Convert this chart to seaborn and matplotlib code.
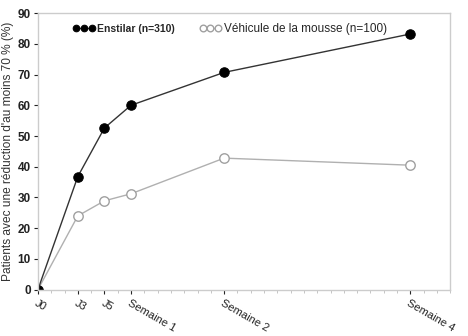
import matplotlib
matplotlib.use("Agg")
import matplotlib.pyplot as plt
import seaborn as sns
import pandas as pd
from matplotlib.ticker import MultipleLocator

days = [0, 3, 5, 7, 14, 28]
tick_labels = ["J0", "J3", "J5", "Semaine 1", "Semaine 2", "Semaine 4"]
enstilar = [0, 36.8, 52.6, 60.0, 70.7, 83.2]
vehicule = [0, 24.0, 28.9, 31.2, 42.8, 40.5]
series_names = ["Enstilar (n=310)", "Véhicule de la mousse (n=100)"]

sns.set_theme(style="white")
plt.rcParams['font.family'] = ['Liberation Sans', 'DejaVu Sans']

df = pd.DataFrame({
    "jour": days * 2,
    "val": enstilar + vehicule,
    "serie": [series_names[0]] * len(days) + [series_names[1]] * len(days),
})

fig = plt.figure(figsize=(4.68, 3.36), dpi=100)
ax = fig.add_axes([0.081, 0.138, 0.881, 0.823])

d1 = df[df.serie == series_names[0]]
d2 = df[df.serie == series_names[1]]
sns.lineplot(data=d2, x="jour", y="val", ax=ax, color="#b0b0b0", lw=1.0,
             marker="o", markersize=6.8, markerfacecolor="white",
             markeredgecolor="#a0a0a0", markeredgewidth=1.0, label=series_names[1])
sns.lineplot(data=d1, x="jour", y="val", ax=ax, color="#333333", lw=1.0,
             marker="o", markersize=6.8, markerfacecolor="black",
             markeredgecolor="black", label=series_names[0])

ax.set_xlim(0, 31)
ax.set_ylim(0, 90)
ax.set_xticks(days)
ax.set_xticklabels(tick_labels, rotation=-30, ha="left", va="top",
                   rotation_mode="anchor", fontsize=8, color="#222222")
ax.xaxis.set_minor_locator(MultipleLocator(1))
ax.set_yticks(range(0, 91, 10))
ax.tick_params(axis="y", labelsize=8.5, colors="#222222", length=3, width=0.8, left=True, pad=2)
ax.tick_params(axis="x", which="major", length=3, width=0.8, bottom=True, pad=3)
ax.tick_params(axis="x", which="minor", length=2, width=0.6, bottom=True, color="#bbbbbb")
for lab in ax.get_yticklabels():
    lab.set_fontweight("bold")
ax.set_xlabel("")
ax.set_ylabel("Patients avec une réduction d'au moins 70 % (%)", fontsize=8.6, color="#333333", labelpad=3)
for sp in ax.spines.values():
    sp.set_color("#cccccc")
    sp.set_linewidth(1.0)

h, l = ax.get_legend_handles_labels()
leg = ax.legend(h[::-1], l[::-1], loc="upper left", ncol=2, numpoints=3,
                frameon=False, fontsize=8, handlelength=2.0, handletextpad=0.2,
                columnspacing=2.2, bbox_to_anchor=(0.06, 1.0), markerscale=0.7)
leg.get_texts()[0].set_fontsize(7.5)
leg.get_texts()[0].set_fontweight("bold")
leg.get_texts()[1].set_fontsize(8.5)

fig.savefig("out.png", dpi=100)
